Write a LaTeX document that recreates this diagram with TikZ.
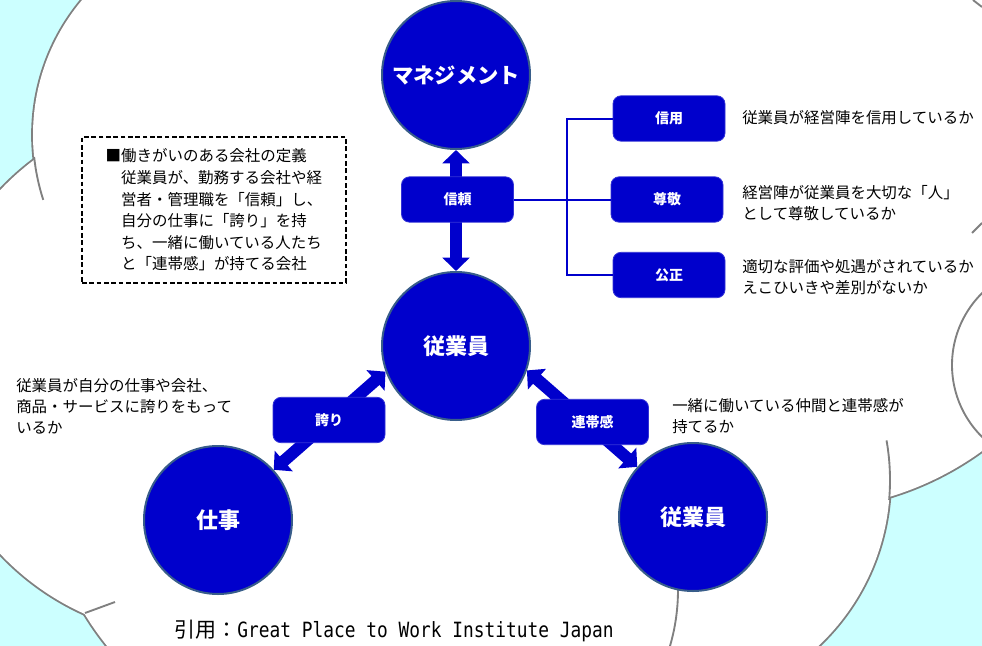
\documentclass[tikz,border=0pt]{standalone}
\usepackage{fontspec}
\setmainfont{Noto Sans CJK JP}
\newfontfamily\citelatin[FakeStretch=0.85]{DejaVu Sans Mono}
\usetikzlibrary{arrows.meta}
\definecolor{nodeblue}{RGB}{0,0,204}
\definecolor{rimblue}{RGB}{56,93,138}
\definecolor{skycyan}{RGB}{204,255,255}
\definecolor{cloudgray}{RGB}{128,128,128}
\tikzset{
  bubble/.style={circle, inner sep=0pt, minimum size=111pt, fill=nodeblue, draw=rimblue, line width=1.5pt, text=white, font=\bfseries\fontsize{16.5}{18}\selectfont},
  tag/.style={rectangle, rounded corners=6pt, inner sep=0pt, minimum width=84pt, minimum height=34pt, fill=nodeblue, draw=nodeblue!80!white, line width=0.6pt, text=white, font=\bfseries\fontsize{10.5}{12}\selectfont},
  note/.style={inner sep=0pt, align=left, anchor=west, font=\fontsize{11.6}{15.75}\selectfont},
  link/.style={draw=nodeblue, line width=1.5pt},
  fatarrow/.style={draw=nodeblue, line width=9pt, {Triangle[length=10pt,width=20pt]}-{Triangle[length=10pt,width=20pt]}},
  puff/.style={draw=cloudgray, line width=2.8pt},
  stub/.style={draw=cloudgray, line width=1.4pt}
}

\begin{document}
\begin{tikzpicture}[x=0.75pt, y=-0.75pt]
      \useasboundingbox (0,0) rectangle (982,646);
      \clip (0,0) rectangle (982,646);
      \fill[skycyan] (0,0) rectangle (982,646);

      \foreach \cx/\cy/\r in {243/135/210, 193/372/265, 341/458/300, 478/590/200, 662/480/228, 800/200/310, 480/300/350}
        \draw[puff] (\cx,\cy) circle[radius=\r];
      \foreach \cx/\cy/\r in {243/135/210, 193/372/265, 341/458/300, 478/590/200, 662/480/228, 800/200/310, 480/300/350}
        \fill[white] (\cx,\cy) circle[radius=\r];

      \draw[stub] (243,135) ++(174:210) arc[start angle=174, end angle=162, radius=210];
      \draw[stub] (85,613) -- (115,602);
      \draw[stub] (478,590) ++(17:200) arc[start angle=17, end angle=-3, radius=200];
      \draw[stub] (662,480) ++(5:228) arc[start angle=5, end angle=-10, radius=228];
      \draw[stub] (1053,365) ++(134:101) arc[start angle=134, end angle=226, radius=101];
      \draw[stub] (972,233) -- (982,223);
      \draw[stub] (973,0) -- (982,7);

      \node[bubble, font=\bfseries\fontsize{16}{18}\selectfont] (mgmt) at (456,75) {マネジメント};
      \node[bubble] (emp) at (456,346) {従業員};
      \node[bubble] (work) at (218,520) {仕事};
      \node[bubble] (peer) at (693,517) {従業員};

      \draw[fatarrow] (mgmt) -- (emp);
      \draw[fatarrow] (work.42) -- (emp.200);
      \draw[fatarrow] (emp.341) -- (peer.138);

      \coordinate (fork) at (567,199.5);
      \node[tag] (trust) at (457.5,199.5) {信頼};
      \node[tag] (credit) at (669,118.5) {信用};
      \node[tag] (respect) at (667,199.5) {尊敬};
      \node[tag] (fair) at (669,275) {公正};
      \node[tag] (pride) at (329,420) {誇り};
      \node[tag] (bond) at (592.5,422) {連帯感};

      \draw[link] (trust.east) -- (fork);
      \draw[link] (credit.west) -| (fork);
      \draw[link] (respect.west) -- (fork);
      \draw[link] (fair.west) -| (fork);

      \node[note] (saycredit) at (742,118) {従業員が経営陣を信用しているか};
      \node[note] (sayrespect) at (742,203.5) {経営陣が従業員を大切な「人」\\として尊敬しているか};
      \node[note] (sayfair) at (742,277.5) {適切な評価や処遇がされているか\\えこひいきや差別がないか};
      \node[note] (saypride) at (16,406) {従業員が自分の仕事や会社、\\商品・サービスに誇りをもって\\いるか};
      \node[note] (saybond) at (672,416.5) {一緒に働いている仲間と連帯感が\\持てるか};

      \node[draw, line width=1.1pt, dash pattern=on 3.5pt off 2pt, minimum width=198pt, minimum height=109.5pt, align=left, font=\fontsize{11.6}{16.2}\selectfont] (define) at (214,210) {■働きがいのある会社の定義\\　従業員が、勤務する会社や経\\　営者・管理職を「信頼」し、\\　自分の仕事に「誇り」を持\\　ち、一緒に働いている人たち\\　と「連帯感」が持てる会社};

      \node[inner sep=0pt, font=\fontsize{15.75}{18}\selectfont] (cite) at (394,631) {引用：{\citelatin Great Place to Work Institute Japan}};
    \end{tikzpicture}
\end{document}
